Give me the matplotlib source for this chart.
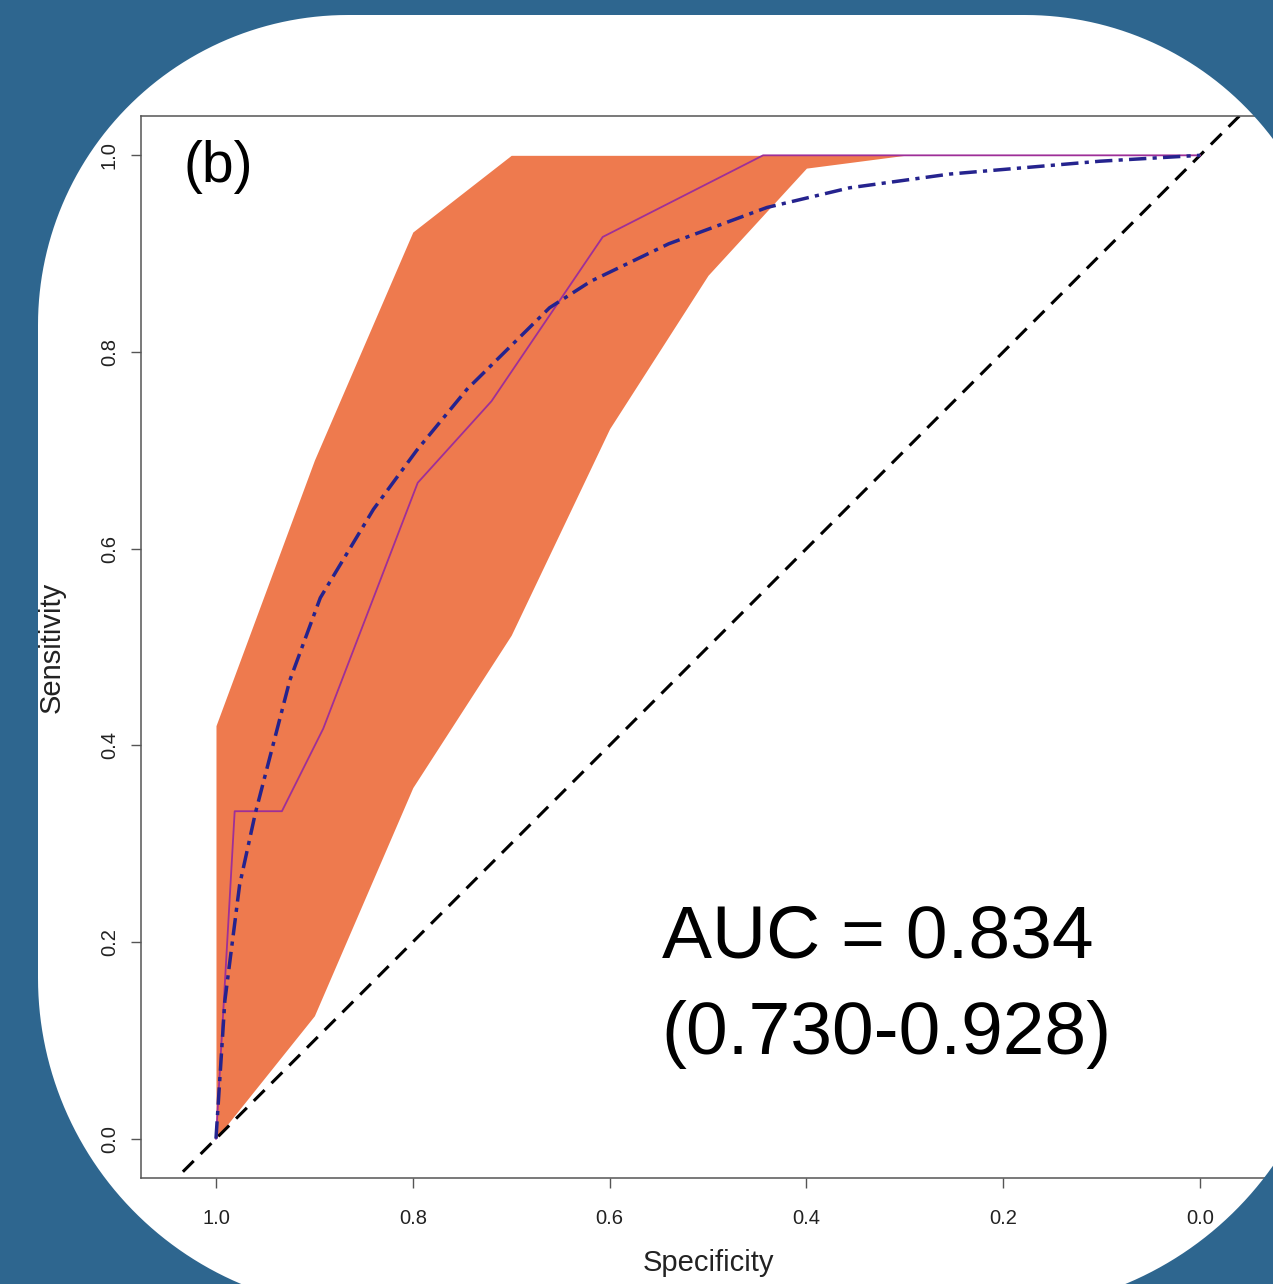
import numpy as np
import matplotlib
matplotlib.use("Agg")
import matplotlib.pyplot as plt
from matplotlib.path import Path
from matplotlib.patches import PathPatch

plt.rcParams['font.family'] = ['Liberation Sans', 'DejaVu Sans']

# ---- data ----
roc_spec = [1.0, 0.981, 0.933, 0.891, 0.795, 0.720, 0.607, 0.444, 0.0]
roc_sens = [0.0, 0.333, 0.333, 0.417, 0.667, 0.750, 0.917, 1.0, 1.0]

smooth_spec = [1.0, 0.991, 0.976, 0.960, 0.925, 0.894, 0.840, 0.796, 0.745,
               0.661, 0.619, 0.540, 0.440, 0.356, 0.305, 0.254, 0.102, 0.0]
smooth_sens = [0.0, 0.140, 0.258, 0.331, 0.466, 0.550, 0.640, 0.700, 0.762,
               0.845, 0.872, 0.910, 0.947, 0.967, 0.974, 0.981, 0.994, 1.0]

ci_spec = [1.0, 0.9, 0.8, 0.7, 0.6, 0.5, 0.4, 0.3, 0.2, 0.1, 0.0]
ci_upper = [0.42, 0.69, 0.922, 1.0, 1.0, 1.0, 1.0, 1.0, 1.0, 1.0, 1.0]
ci_lower = [0.0, 0.125, 0.357, 0.512, 0.722, 0.878, 0.987, 1.0, 1.0, 1.0, 1.0]

tick_values = [0.0, 0.2, 0.4, 0.6, 0.8, 1.0]
tick_labels = ["0.0", "0.2", "0.4", "0.6", "0.8", "1.0"]

panel_label = "(b)"
auc_line1 = "AUC = 0.834"
auc_line2 = "(0.730-0.928)"

# ---- figure ----
W, H = 1273, 1284
fig = plt.figure(figsize=(W / 100, H / 100), dpi=100, facecolor="white")

L, R, T, B = 141, 1275, 116, 1178
ax = fig.add_axes([L / W, 1 - B / H, (R - L) / W, (B - T) / H])
ax.set_facecolor("white")

ax.fill_between(ci_spec, ci_lower, ci_upper, color="#EE7A4E", lw=0, zorder=1)
ax.axline((1, 0), (0, 1), color="black", lw=2.2, dashes=(5, 3.2), zorder=2)
ax.plot(roc_spec, roc_sens, color="#9E2F98", lw=1.3, zorder=3)
ax.plot(smooth_spec, smooth_sens, color="#25238E", lw=2.5,
        dashes=(5.0, 1.8, 1.2, 1.8), zorder=4)

ax.set_xlim(1.0762, -0.0762)
ax.set_ylim(-0.04, 1.04)
ax.set_xticks(tick_values)
ax.set_xticklabels(tick_labels)
ax.set_yticks(tick_values)
ax.set_yticklabels(tick_labels, rotation=90, va="center")
ax.tick_params(axis="both", length=7, width=1, color="#555555",
               labelsize=14.5, labelcolor="#222222")
ax.tick_params(axis="x", pad=15)
ax.tick_params(axis="y", pad=9)
for sp in ax.spines.values():
    sp.set_color("#555555")
    sp.set_linewidth(1.1)

ax.text(1.0335, 0.9725, panel_label, fontsize=41, ha="left", va="baseline",
        color="black")
ax.text(0.547, 0.184, auc_line1, fontsize=54, ha="left", va="baseline",
        color="black")
ax.text(0.547, 0.0865, auc_line2, fontsize=54, ha="left", va="baseline",
        color="black")

fig.text(708 / W, 1 - 1263 / H, "Specificity", fontsize=21, ha="center",
         va="center", color="#222222")
fig.text(52 / W, 1 - 647 / H, "Sensitivity", fontsize=21, ha="center",
         va="center", rotation=90, color="#222222")

# ---- blue frame with rounded white card (mask on top) ----
mask = fig.add_axes([0, 0, 1, 1], zorder=10)
mask.set_xlim(0, W)
mask.set_ylim(H, 0)
mask.axis("off")
mask.patch.set_alpha(0)

x0, y0, x1, y1 = 38, 15, 1335, 1310
r_tl, r_tr, r_br, r_bl = 310, 310, 340, 332


def arc(cx, cy, r, a0, a1, n=60):
    t = np.radians(np.linspace(a0, a1, n))
    return list(zip(cx + r * np.cos(t), cy + r * np.sin(t)))


inner = []
inner += arc(x0 + r_bl, y1 - r_bl, r_bl, 180, 90)
inner += arc(x1 - r_br, y1 - r_br, r_br, 90, 0)
inner += arc(x1 - r_tr, y0 + r_tr, r_tr, 0, -90)
inner += arc(x0 + r_tl, y0 + r_tl, r_tl, -90, -180)
inner.append(inner[0])
outer = [(-60, -60), (W + 60, -60), (W + 60, H + 60), (-60, H + 60), (-60, -60)]

verts = outer + inner
codes = ([Path.MOVETO] + [Path.LINETO] * (len(outer) - 2) + [Path.CLOSEPOLY] +
         [Path.MOVETO] + [Path.LINETO] * (len(inner) - 2) + [Path.CLOSEPOLY])
mask.add_patch(PathPatch(Path(verts, codes), facecolor="#2E668F",
                         edgecolor="none"))

fig.savefig("out.png", dpi=100, facecolor="white")
